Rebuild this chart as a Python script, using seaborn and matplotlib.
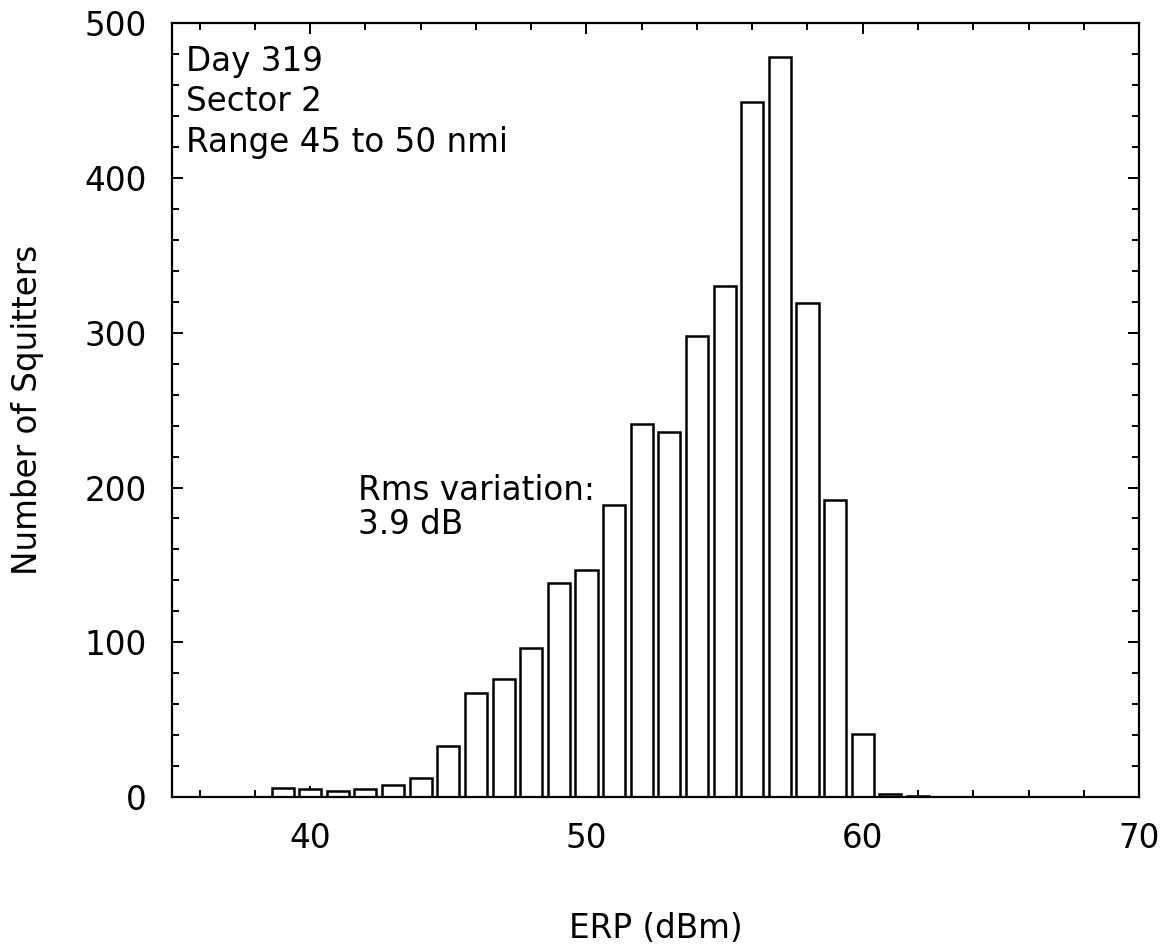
import numpy as np
import pandas as pd
import matplotlib
matplotlib.use('Agg')
import matplotlib.pyplot as plt
from matplotlib.ticker import MultipleLocator
import seaborn as sns

# histogram of squitter ERP values
erp_dbm = [39, 40, 41, 42, 43, 44, 45, 46, 47, 48, 49, 50,
           51, 52, 53, 54, 55, 56, 57, 58, 59, 60, 61, 62]
counts = [6, 5.5, 4, 5, 8, 12, 33, 67, 76, 96, 138, 147,
          189, 241, 236, 298, 330, 449, 478, 319, 192, 41, 2, 1]
info_lines = ['Day 319', 'Sector 2', 'Range 45 to 50 nmi']
rms_note = 'Rms variation:\n3.9 dB'

df = pd.DataFrame({'ERP': erp_dbm, 'Count': counts})

sns.set_style('ticks')
plt.rcParams['font.family'] = ['DejaVu Sans']
plt.rcParams['text.color'] = 'black'
plt.rcParams['axes.labelcolor'] = 'black'
FS = 23.5

fig = plt.figure(figsize=(11.68, 9.5), dpi=100)
ax = fig.add_axes([0.1473, 0.161, 0.8279, 0.8145])

sns.barplot(data=df, x='ERP', y='Count', native_scale=True, width=0.8,
            color='white', edgecolor='black', linewidth=1.8, ax=ax)

ax.set_xlim(35, 70)
ax.set_ylim(0, 500)
ax.xaxis.set_major_locator(MultipleLocator(10))
ax.xaxis.set_minor_locator(MultipleLocator(2))
ax.yaxis.set_major_locator(MultipleLocator(100))
ax.yaxis.set_minor_locator(MultipleLocator(20))
ax.tick_params(which='both', direction='in', top=True, right=True,
               width=1.4, colors='black', labelsize=FS, pad=18)
ax.tick_params(which='major', length=8)
ax.tick_params(which='minor', length=5)
for s in ax.spines.values():
    s.set_visible(True)
    s.set_linewidth(1.6)
    s.set_color('black')

ax.set_xlabel('ERP (dBm)', fontsize=FS, labelpad=41)
ax.set_ylabel('Number of Squitters', fontsize=FS, labelpad=29)

for line, yy in zip(info_lines, [0.9388, 0.887, 0.8337]):
    ax.text(0.0145, yy, line, transform=ax.transAxes, fontsize=FS,
            va='baseline', ha='left')
ax.text(41.72, 170, rms_note, fontsize=FS, va='baseline', ha='left',
        linespacing=1.05)

fig.savefig('out.png', dpi=100, facecolor='white')
